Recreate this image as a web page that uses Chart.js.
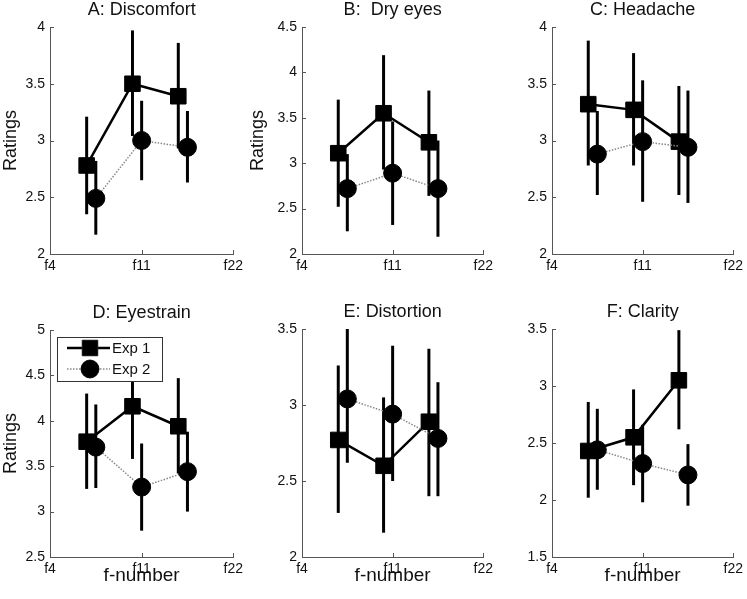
<!DOCTYPE html>
<html>
<head>
<meta charset="utf-8">
<script src="https://cdn.jsdelivr.net/npm/chart.js@4.4.1/dist/chart.umd.min.js"></script>
<style>
  body { margin: 0; background: #fff; width: 747px; height: 599px; position: relative; overflow: hidden; }
  canvas { position: absolute; }
</style>
</head>
<body>
<canvas id="c0"></canvas>
<canvas id="c1"></canvas>
<canvas id="c2"></canvas>
<canvas id="c3"></canvas>
<canvas id="c4"></canvas>
<canvas id="c5"></canvas>
<script>
// data
const xLabels = ['f4', 'f11', 'f22']
const xExp1 = [0.4, 0.9, 1.4]
const xExp2 = [0.5, 1.0, 1.5]
const titles = ['A: Discomfort', 'B:  Dry eyes', 'C: Headache', 'D: Eyestrain', 'E: Distortion', 'F: Clarity']
const yMin = [2, 2, 2, 2.5, 2, 1.5]
const yMax = [4, 4.5, 4, 5, 3.5, 3.5]

const exp1Mean = [[2.78, 3.50, 3.39], [3.11, 3.55, 3.23], [3.32, 3.27, 2.99], [3.77, 4.16, 3.94], [2.77, 2.60, 2.89], [2.43, 2.55, 3.05]]
const exp1Lo   = [[2.35, 3.04, 2.93], [2.52, 2.93, 2.64], [2.78, 2.78, 2.52], [3.25, 3.58, 3.42], [2.29, 2.16, 2.40], [2.02, 2.13, 2.62]]
const exp1Hi   = [[3.21, 3.97, 3.86], [3.70, 4.19, 3.80], [3.88, 3.77, 3.48], [4.30, 4.75, 4.47], [3.26, 3.05, 3.37], [2.86, 2.97, 3.49]]
const exp2Mean = [[2.49, 3.00, 2.94], [2.72, 2.89, 2.72], [2.88, 2.99, 2.94], [3.71, 3.27, 3.44], [3.04, 2.94, 2.78], [2.44, 2.32, 2.22]]
const exp2Lo   = [[2.17, 2.65, 2.63], [2.25, 2.32, 2.19], [2.52, 2.46, 2.45], [3.26, 2.79, 3.00], [2.62, 2.50, 2.40], [2.09, 1.98, 1.95]]
const exp2Hi   = [[2.82, 3.35, 3.26], [3.10, 3.46, 3.25], [3.26, 3.53, 3.44], [4.18, 3.75, 3.88], [3.50, 3.39, 3.15], [2.80, 2.66, 2.49]]

// where each panel sits on the page (canvas box + plot area)
const panels = [
  { x: 0,   y: 0,   w: 247, h: 295, aL: 50,  aR: 236, aT: 27,  aB: 254, ylab: true,  xlab: false },
  { x: 247, y: 0,   w: 250, h: 295, aL: 302, aR: 485, aT: 27,  aB: 254, ylab: true,  xlab: false },
  { x: 497, y: 0,   w: 250, h: 295, aL: 552, aR: 736, aT: 27,  aB: 254, ylab: false, xlab: false },
  { x: 0,   y: 295, w: 247, h: 304, aL: 50,  aR: 236, aT: 330, aB: 557, ylab: true,  xlab: true },
  { x: 247, y: 295, w: 250, h: 304, aL: 302, aR: 485, aT: 329, aB: 557, ylab: false, xlab: true },
  { x: 497, y: 295, w: 250, h: 304, aL: 552, aR: 736, aT: 329, aB: 557, ylab: false, xlab: true }
]

const FONT = '"Liberation Sans", Arial, sans-serif'

const errorBars = {
  id: 'errorBars',
  beforeDatasetDraw(chart, args) {
    const ds = chart.data.datasets[args.index]
    const { x, y } = chart.scales
    const ctx = chart.ctx
    ctx.save()
    ctx.strokeStyle = '#000'
    ctx.lineWidth = 3
    ds.data.forEach((p, i) => {
      const px = x.getPixelForValue(p.x)
      ctx.beginPath()
      ctx.moveTo(px, y.getPixelForValue(ds.errLo[i]))
      ctx.lineTo(px, y.getPixelForValue(ds.errHi[i]))
      ctx.stroke()
    })
    ctx.restore()
  }
}

const panelDecor = {
  id: 'panelDecor',
  afterDraw(chart, args, opts) {
    const { ctx, chartArea, scales } = chart
    ctx.save()
    // inward ticks like matlab
    ctx.strokeStyle = '#555'
    ctx.lineWidth = 1
    scales.y.ticks.forEach(t => {
      const py = Math.round(scales.y.getPixelForValue(t.value)) + 0.5
      ctx.beginPath()
      ctx.moveTo(chartArea.left, py)
      ctx.lineTo(chartArea.left + 4, py)
      ctx.stroke()
    })
    scales.x.ticks.forEach(t => {
      const px = Math.round(scales.x.getPixelForValue(t.value)) + 0.5
      ctx.beginPath()
      ctx.moveTo(px, chartArea.bottom)
      ctx.lineTo(px, chartArea.bottom - 4)
      ctx.stroke()
    })
    // panel title
    ctx.fillStyle = '#111'
    ctx.font = '18px ' + FONT
    ctx.textAlign = 'center'
    ctx.textBaseline = 'middle'
    ctx.fillText(opts.title, (chartArea.left + chartArea.right) / 2, chartArea.top - 17)

    if (opts.legend) {
      const bx = chartArea.left + 7, by = chartArea.top + 7, bw = 105, bh = 44
      ctx.fillStyle = '#fff'
      ctx.fillRect(bx, by, bw, bh)
      ctx.strokeStyle = '#333'
      ctx.strokeRect(bx + 0.5, by + 0.5, bw, bh)
      const sets = chart.data.datasets.slice().sort((a, b) => b.order - a.order)
      sets.forEach((ds, k) => {
        const ry = by + 11 + k * 21
        ctx.save()
        ctx.strokeStyle = ds.borderColor
        ctx.lineWidth = ds.borderWidth
        ctx.setLineDash(ds.borderDash || [])
        ctx.beginPath()
        ctx.moveTo(bx + 10, ry)
        ctx.lineTo(bx + 53, ry)
        ctx.stroke()
        ctx.restore()
        Chart.helpers.drawPoint(ctx, {
          pointStyle: ds.pointStyle, radius: ds.pointRadius, rotation: 0, borderWidth: 1
        }, bx + 33, ry)
        ctx.fillStyle = '#000'
        ctx.fill()
        ctx.fillStyle = '#111'
        ctx.font = '15px ' + FONT
        ctx.textAlign = 'left'
        ctx.fillText(ds.label, bx + 55, ry + 1)
      })
    }
    ctx.restore()
  }
}

panels.forEach((p, i) => {
  const cv = document.getElementById('c' + i)
  cv.width = p.w
  cv.height = p.h
  cv.style.left = p.x + 'px'
  cv.style.top = p.y + 'px'
  const yW = p.aL - p.x
  const xH = p.y + p.h - p.aB

  new Chart(cv, {
    type: 'line',
    data: {
      datasets: [{
        label: 'Exp 1',
        data: xExp1.map((x, k) => ({ x: x, y: exp1Mean[i][k] })),
        errLo: exp1Lo[i],
        errHi: exp1Hi[i],
        borderColor: '#000',
        borderWidth: 2.5,
        pointStyle: 'rect',
        pointRadius: 11,
        pointBackgroundColor: '#000',
        pointBorderColor: '#000',
        pointBorderWidth: 1,
        order: 2
      }, {
        label: 'Exp 2',
        data: xExp2.map((x, k) => ({ x: x, y: exp2Mean[i][k] })),
        errLo: exp2Lo[i],
        errHi: exp2Hi[i],
        borderColor: '#888',
        borderWidth: 1.5,
        borderDash: [1.5, 1.5],
        pointStyle: 'circle',
        pointRadius: 9,
        pointBackgroundColor: '#000',
        pointBorderColor: '#000',
        pointBorderWidth: 1,
        order: 1
      }]
    },
    options: {
      responsive: false,
      animation: false,
      devicePixelRatio: 1,
      layout: { padding: { top: p.aT - p.y, right: p.x + p.w - p.aR, left: 0, bottom: 0 } },
      plugins: {
        legend: { display: false },
        tooltip: { enabled: false },
        panelDecor: { title: titles[i], legend: i === 3 }
      },
      scales: {
        x: {
          type: 'linear',
          min: 0,
          max: 2,
          afterFit: s => { s.height = xH },
          border: { display: true, color: '#555', width: 1 },
          grid: { display: false, drawTicks: false },
          ticks: {
            stepSize: 1,
            padding: 4,
            color: '#111',
            font: { family: FONT, size: 14 },
            callback: v => xLabels[v]
          },
          title: {
            display: p.xlab,
            text: 'f-number',
            color: '#111',
            font: { family: FONT, size: 19 },
            padding: { top: 0, bottom: 12 }
          }
        },
        y: {
          min: yMin[i],
          max: yMax[i],
          afterFit: s => { s.width = yW },
          border: { display: true, color: '#555', width: 1 },
          grid: { display: false, drawTicks: false },
          ticks: {
            stepSize: 0.5,
            padding: 5,
            color: '#111',
            font: { family: FONT, size: 14 },
            callback: v => String(+v.toFixed(1))
          },
          title: {
            display: p.ylab,
            text: 'Ratings',
            color: '#111',
            font: { family: FONT, size: 18 },
            padding: { top: 0, bottom: 0 }
          }
        }
      }
    },
    plugins: [errorBars, panelDecor]
  })
})
</script>
</body>
</html>
